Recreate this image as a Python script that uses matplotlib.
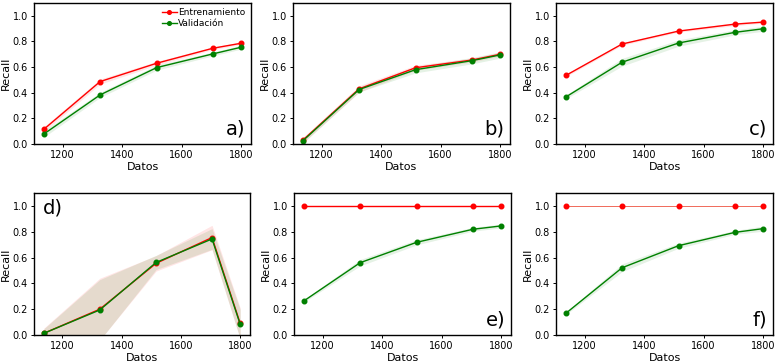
import numpy as np
import matplotlib
matplotlib.use("Agg")
import matplotlib.pyplot as plt

# train sizes
datos = [1137, 1326, 1516, 1705, 1800]

# recall means and std per panel (train / validation)
a_tr = [0.115, 0.487, 0.63, 0.747, 0.786]
a_tr_sd = [0.02, 0.02, 0.015, 0.01, 0.01]
a_va = [0.078, 0.383, 0.596, 0.703, 0.755]
a_va_sd = [0.025, 0.02, 0.02, 0.015, 0.015]

b_tr = [0.03, 0.43, 0.595, 0.655, 0.70]
b_tr_sd = [0.02, 0.025, 0.02, 0.015, 0.015]
b_va = [0.025, 0.425, 0.58, 0.65, 0.695]
b_va_sd = [0.02, 0.02, 0.025, 0.025, 0.025]

c_tr = [0.535, 0.78, 0.881, 0.935, 0.951]
c_tr_sd = [0.01, 0.01, 0.008, 0.012, 0.008]
c_va = [0.367, 0.638, 0.788, 0.871, 0.899]
c_va_sd = [0.015, 0.03, 0.025, 0.02, 0.02]

d_tr = [0.013, 0.20, 0.555, 0.755, 0.09]
d_tr_sd = [0.04, 0.24, 0.06, 0.095, 0.12]
d_va = [0.013, 0.194, 0.562, 0.744, 0.083]
d_va_sd = [0.035, 0.235, 0.055, 0.08, 0.115]

e_tr = [1.0, 1.0, 1.0, 1.0, 1.0]
e_tr_sd = [0.0, 0.0, 0.0, 0.0, 0.0]
e_va = [0.264, 0.56, 0.718, 0.819, 0.845]
e_va_sd = [0.01, 0.025, 0.02, 0.015, 0.015]

f_tr = [1.0, 1.0, 1.0, 1.0, 1.0]
f_tr_sd = [0.0, 0.0, 0.0, 0.0, 0.0]
f_va = [0.168, 0.521, 0.692, 0.795, 0.824]
f_va_sd = [0.01, 0.03, 0.02, 0.015, 0.02]

paneles = [
    ("a)", a_tr, a_tr_sd, a_va, a_va_sd, (34, 3, 251, 144)),
    ("b)", b_tr, b_tr_sd, b_va, b_va_sd, (293, 3, 510, 144)),
    ("c)", c_tr, c_tr_sd, c_va, c_va_sd, (556, 3, 773, 144)),
    ("d)", d_tr, d_tr_sd, d_va, d_va_sd, (34, 193, 250, 335)),
    ("e)", e_tr, e_tr_sd, e_va, e_va_sd, (294, 193, 511, 335)),
    ("f)", f_tr, f_tr_sd, f_va, f_va_sd, (556, 193, 773, 335)),
]

W, H = 777, 363
fig = plt.figure(figsize=(W / 100, H / 100), dpi=100)

for letra, tr, tr_sd, va, va_sd, (x0, y0, x1, y1) in paneles:
    ax = fig.add_axes([x0 / W, 1 - y1 / H, (x1 - x0) / W, (y1 - y0) / H])
    tr = np.array(tr); tr_sd = np.array(tr_sd)
    va = np.array(va); va_sd = np.array(va_sd)
    lw_tr = 0.7 if letra == "f)" else 1.0
    col_tr = "#f06a5a" if letra == "f)" else "red"
    ax.plot(datos, tr, color=col_tr, lw=lw_tr, marker="o", ms=3.3,
            mfc="red", mec="red", label="Entrenamiento")
    ax.fill_between(datos, tr - tr_sd, tr + tr_sd, color="red", alpha=0.1, lw=0)
    ax.plot(datos, va, color="green", lw=1.0, marker="o", ms=3.3,
            label="Validación")
    ax.fill_between(datos, va - va_sd, va + va_sd, color="green", alpha=0.1, lw=0)
    ax.set_ylim(0, 1.1)
    ax.set_xticks([1200, 1400, 1600, 1800])
    ax.set_yticks([0.0, 0.2, 0.4, 0.6, 0.8, 1.0])
    ax.tick_params(labelsize=7, length=2.5, width=0.7, pad=2)
    ax.set_xlabel("Datos", fontsize=8, labelpad=1)
    ax.set_ylabel("Recall", fontsize=8, labelpad=1)
    for s in ax.spines.values():
        s.set_linewidth(1.0)
    if letra == "d)":
        ax.text(0.04, 0.96, letra, transform=ax.transAxes, fontsize=14,
                ha="left", va="top")
    else:
        ax.text(0.975, 0.04, letra, transform=ax.transAxes, fontsize=14,
                ha="right", va="bottom")
    if letra == "a)":
        ax.legend(loc="upper right", frameon=False, fontsize=6.5,
                  handlelength=1.6, handletextpad=0.2, labelspacing=0.2,
                  borderaxespad=0.2, markerscale=0.8)

fig.savefig("out.png", dpi=100)
